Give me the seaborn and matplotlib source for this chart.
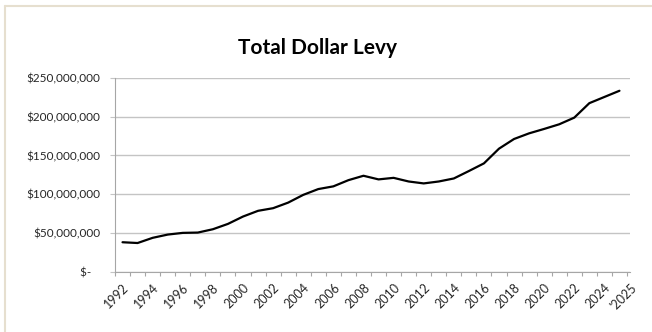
import matplotlib
matplotlib.use("Agg")
import matplotlib.pyplot as plt
import seaborn as sns
import pandas as pd
import numpy as np
from matplotlib.lines import Line2D

years = [str(y) for y in range(1992, 2026)]
levy_millions = [37.8, 36.8, 43.5, 47.7, 49.9, 50.3, 54.6, 61.5, 71.0, 78.4,
                 81.8, 89.0, 99.0, 106.5, 110.0, 118.0, 123.7, 119.0, 121.0, 116.3,
                 113.8, 116.3, 120.2, 129.8, 139.7, 158.7, 171.2, 178.5, 184.2, 190.2,
                 198.8, 217.5, 225.5, 233.5]
x_tick_labels = ["1992", "1994", "1996", "1998", "2000", "2002", "2004", "2006",
                 "2008", "2010", "2012", "2014", "2016", "2018", "2020", "2022",
                 "2024", "'2025"]
y_ticks = [0, 50e6, 100e6, 150e6, 200e6, 250e6]
y_tick_labels = ["$-   ", "$50,000,000", "$100,000,000", "$150,000,000",
                 "$200,000,000", "$250,000,000"]
title = "Total Dollar Levy"

df = pd.DataFrame({"Year": years, "Levy": [v * 1e6 for v in levy_millions]})
df["pos"] = np.arange(len(df))

sns.set_theme(style="white")
plt.rcParams["font.family"] = ["Lato", "DejaVu Sans"]

fig = plt.figure(figsize=(6.52, 3.32), dpi=100)
ax = fig.add_axes([115 / 652, (332 - 271.5) / 332, 515 / 652, (271.5 - 78) / 332])

sns.lineplot(data=df, x="pos", y="Levy", ax=ax, color="black", linewidth=1.6)

ax.set_xlim(-0.5, len(years) - 0.5)
ax.set_ylim(0, 250e6)

ax.set_yticks(y_ticks)
ax.set_yticklabels(y_tick_labels)
ax.yaxis.grid(True, color="#c4c4c4", linewidth=1.0)
ax.set_axisbelow(True)

label_pos = list(range(0, 33, 2)) + [33.7]
ax.set_xticks(label_pos)
ax.set_xticklabels(x_tick_labels, rotation=45, ha="right", rotation_mode="anchor")
ax.set_xticks(np.arange(-0.5, len(years), 1.0), minor=True)
ax.tick_params(axis="x", which="major", length=0, pad=7, labelsize=9, labelcolor="#262626")
ax.tick_params(axis="x", which="minor", length=3, width=0.8, color="#a6a6a6", direction="out", bottom=True)
ax.tick_params(axis="y", which="major", length=3.5, width=0.8, color="#c4c4c4", direction="out",
               left=True, pad=7, labelsize=8.5, labelcolor="#262626")

for s in ["top", "right"]:
    ax.spines[s].set_visible(False)
for s in ["left", "bottom"]:
    ax.spines[s].set_color("#a6a6a6")
    ax.spines[s].set_linewidth(0.8)

ax.set_xlabel("")
ax.set_ylabel("")

fig.text(318 / 652, 1 - 48 / 332, title, ha="center", va="center",
         fontsize=15, fontweight="bold", color="black")

# light frame lines (top and left)
fig.add_artist(Line2D([4.5 / 652, 1], [1 - 5.5 / 332, 1 - 5.5 / 332], transform=fig.transFigure,
                      color="#e6dfcf", linewidth=1.5))
fig.add_artist(Line2D([4.5 / 652, 4.5 / 652], [0, 1 - 5.5 / 332], transform=fig.transFigure,
                      color="#e6dfcf", linewidth=1.5))

fig.savefig("out.png", dpi=100, facecolor="white")
